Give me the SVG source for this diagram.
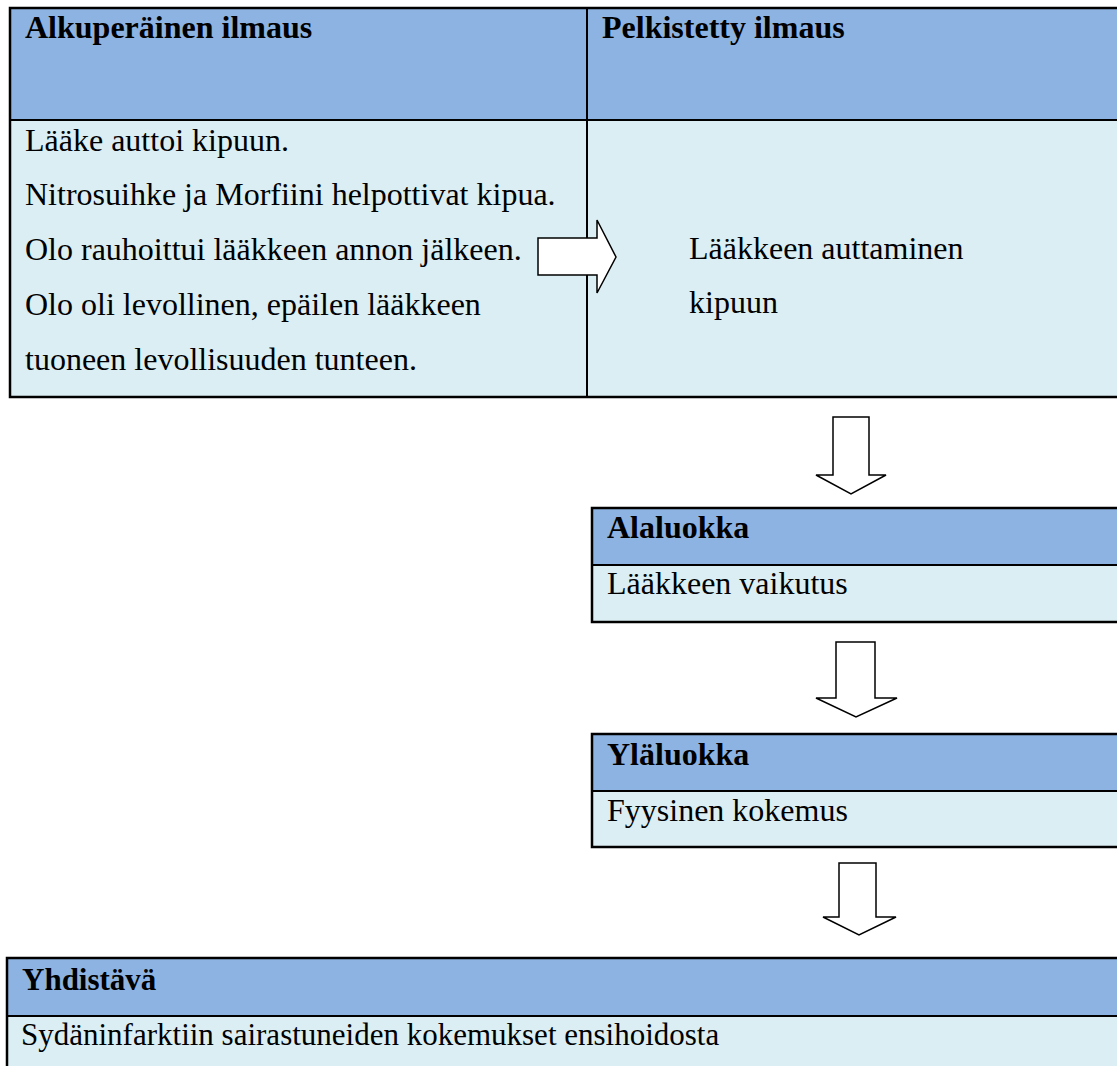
<svg xmlns="http://www.w3.org/2000/svg" width="1117" height="1066" viewBox="0 0 1117 1066">
<style>
.hd{fill:#8DB3E2;}
.bd{fill:#DBEEF3;}
.ln{stroke:#000;stroke-width:2.5;fill:none;}
.in{stroke:#000;stroke-width:2;fill:none;}
.t{font-family:"Liberation Serif","Times New Roman",serif;font-size:32px;fill:#000;}
.b{font-weight:bold;}
.arr{fill:#fff;stroke:#000;stroke-width:1.5;stroke-linejoin:miter;}
</style>
<rect width="1117" height="1066" fill="#fff"/>
<g id="table-top">
  <rect class="hd" x="10" y="8" width="1120" height="112"/>
  <rect class="bd" x="10" y="120" width="1120" height="277"/>
  <line class="in" x1="10" y1="120" x2="1130" y2="120"/>
  <line class="in" x1="587" y1="8" x2="587" y2="397"/>
  <rect class="ln" x="10" y="8" width="1120" height="389"/>
  <text class="t b" x="25" y="38">Alkuperäinen ilmaus</text>
  <text class="t b" x="602" y="38">Pelkistetty ilmaus</text>
  <text class="t" x="25" y="151">Lääke auttoi kipuun.</text>
  <text class="t" x="25" y="205">Nitrosuihke ja Morfiini helpottivat kipua.</text>
  <text class="t" x="25" y="260">Olo rauhoittui lääkkeen annon jälkeen.</text>
  <text class="t" x="25" y="315">Olo oli levollinen, epäilen lääkkeen</text>
  <text class="t" x="25" y="370">tuoneen levollisuuden tunteen.</text>
  <text class="t" x="689" y="259">Lääkkeen auttaminen</text>
  <text class="t" x="689" y="313">kipuun</text>
</g>
<g id="alaluokka">
  <rect class="hd" x="592" y="508" width="540" height="57"/>
  <rect class="bd" x="592" y="565" width="540" height="57"/>
  <line class="in" x1="592" y1="565" x2="1132" y2="565"/>
  <rect class="ln" x="592" y="508" width="540" height="114"/>
  <text class="t b" x="607" y="538">Alaluokka</text>
  <text class="t" x="607" y="594">Lääkkeen vaikutus</text>
</g>
<g id="ylaluokka">
  <rect class="hd" x="592" y="734" width="540" height="57"/>
  <rect class="bd" x="592" y="791" width="540" height="57"/>
  <line class="in" x1="592" y1="791" x2="1132" y2="791"/>
  <rect class="ln" x="592" y="734" width="540" height="113"/>
  <text class="t b" x="607" y="765">Yläluokka</text>
  <text class="t" x="607" y="821">Fyysinen kokemus</text>
</g>
<g id="yhdistava">
  <rect class="hd" x="7" y="958" width="1125" height="58"/>
  <rect class="bd" x="7" y="1016" width="1125" height="60"/>
  <line class="in" x1="7" y1="1016" x2="1132" y2="1016"/>
  <rect class="ln" x="7" y="958" width="1125" height="120"/>
  <text class="t b" x="22" y="990" style="font-size:31px">Yhdistävä</text>
  <text class="t" x="21" y="1045" style="font-size:31px">Sydäninfarktiin sairastuneiden kokemukset ensihoidosta</text>
</g>
<g id="connectors">
  <polygon class="arr" points="538,238 597,238 597,220 616,257 597,293 597,275 538,275"/>
  <polygon class="arr" points="833,417 869,417 869,475 886,475 851,494 816,475 833,475"/>
  <polygon class="arr" points="836,642 875,642 875,698 897,698 856,717 816,698 836,698"/>
  <polygon class="arr" points="839,863 876,863 876,917 896,917 859,935 823,917 839,917"/>
</g>
</svg>
